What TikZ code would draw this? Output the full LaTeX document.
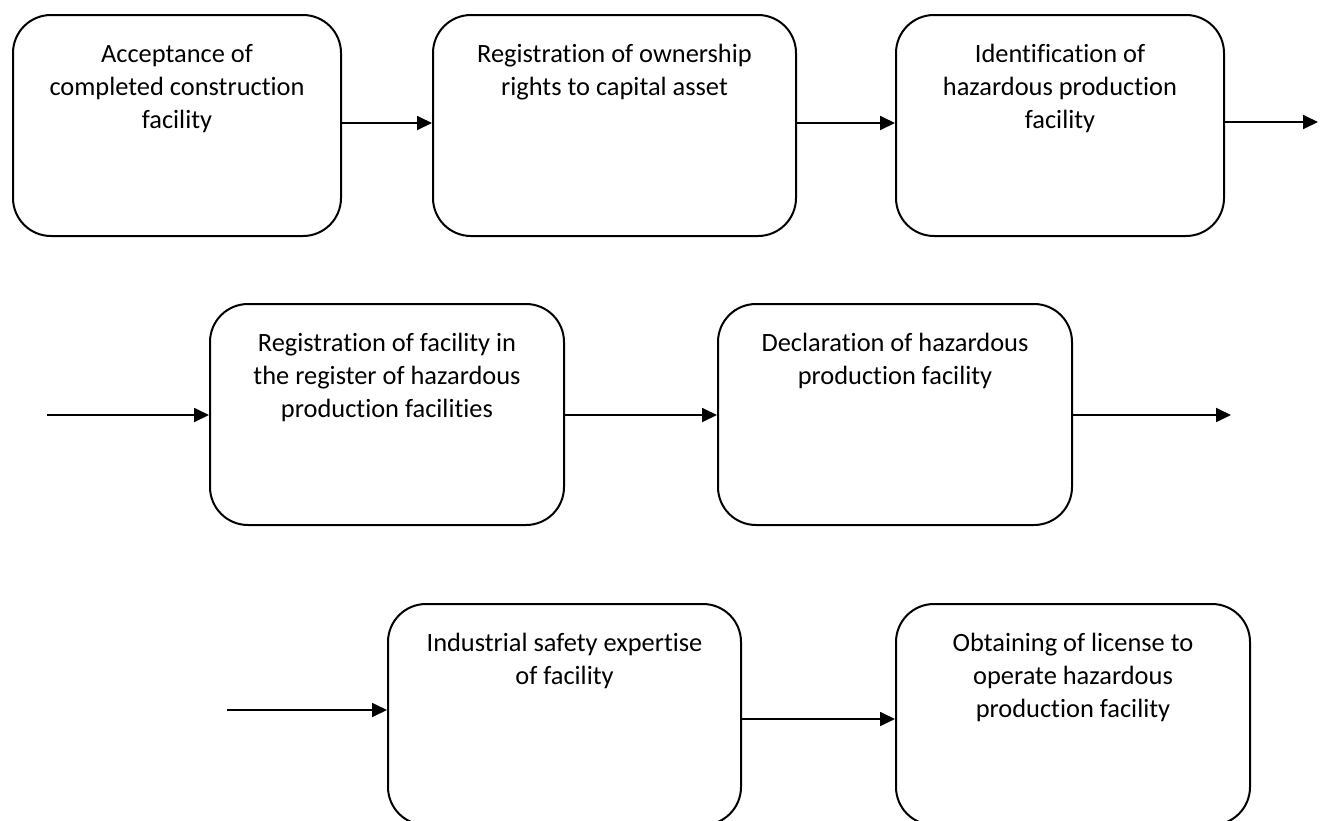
\documentclass[tikz,border=0pt]{standalone}
\usepackage{fontspec}
\setmainfont{Carlito}[Ligatures=NoCommon]
\usepackage{tikz}
\usetikzlibrary{arrows.meta,positioning}
\tikzstyle{stage} = [draw, rounded corners=38pt, line width=2pt, inner xsep=0pt, inner ysep=29pt, anchor=north west, font=\fontsize{26.4}{33}\selectfont]
\tikzstyle{flow} = [line width=1.8pt, -{Triangle[length=15pt,width=14pt]}]
\newcommand{\stagetext}[1]{\begin{minipage}[t][163pt][t]{300pt}\centering #1\end{minipage}}

\begin{document}
\begin{tikzpicture}[x=1pt,y=-1pt]
	\useasboundingbox (0,0) rectangle (1320,820);
	% first row
	\node [stage, minimum width=328pt] (accept) at (12,14) {\stagetext{Acceptance of\\ completed construction\\ facility}};
	\node [stage, minimum width=363pt] (owner) at (432,14) {\stagetext{Registration of ownership\\ rights to capital asset}};
	\node [stage, minimum width=328pt] (ident) at (895,14) {\stagetext{Identification of\\ hazardous production\\ facility}};
	% second row
	\node [stage, minimum width=354pt] (regist) at (209,303) {\stagetext{Registration of facility in\\ the register of hazardous\\ production facilities}};
	\node [stage, minimum width=354pt] (declar) at (717,303) {\stagetext{Declaration of hazardous\\ production facility}};
	% third row
	\node [stage, minimum width=353pt] (expert) at (387,603) {\stagetext{Industrial safety expertise\\ of facility}};
	\node [stage, minimum width=354pt] (license) at (895,603) {\stagetext{Obtaining of license to\\ operate hazardous\\ production facility}};
	% loose ends
	\coordinate (out1) at (1318,122);
	\coordinate (in2) at (47,415);
	\coordinate (out2) at (1231,415);
	\coordinate (in3) at (227,710);
	% arrows
	\draw [flow] ([yshift=2.5pt]accept.east) -- ([yshift=2.5pt]owner.west);
	\draw [flow] ([yshift=2.5pt]owner.east) -- ([yshift=2.5pt]ident.west);
	\draw [flow] (ident.east |- out1) -- (out1);
	\draw [flow] (in2) -- (regist.west |- in2);
	\draw [flow] (regist.east |- in2) -- (declar.west |- in2);
	\draw [flow] (declar.east |- out2) -- (out2);
	\draw [flow] (in3) -- (expert.west |- in3);
	\draw [flow] ([yshift=-4.5pt]expert.east) -- ([yshift=-4.5pt]license.west);
\end{tikzpicture}
\end{document}
